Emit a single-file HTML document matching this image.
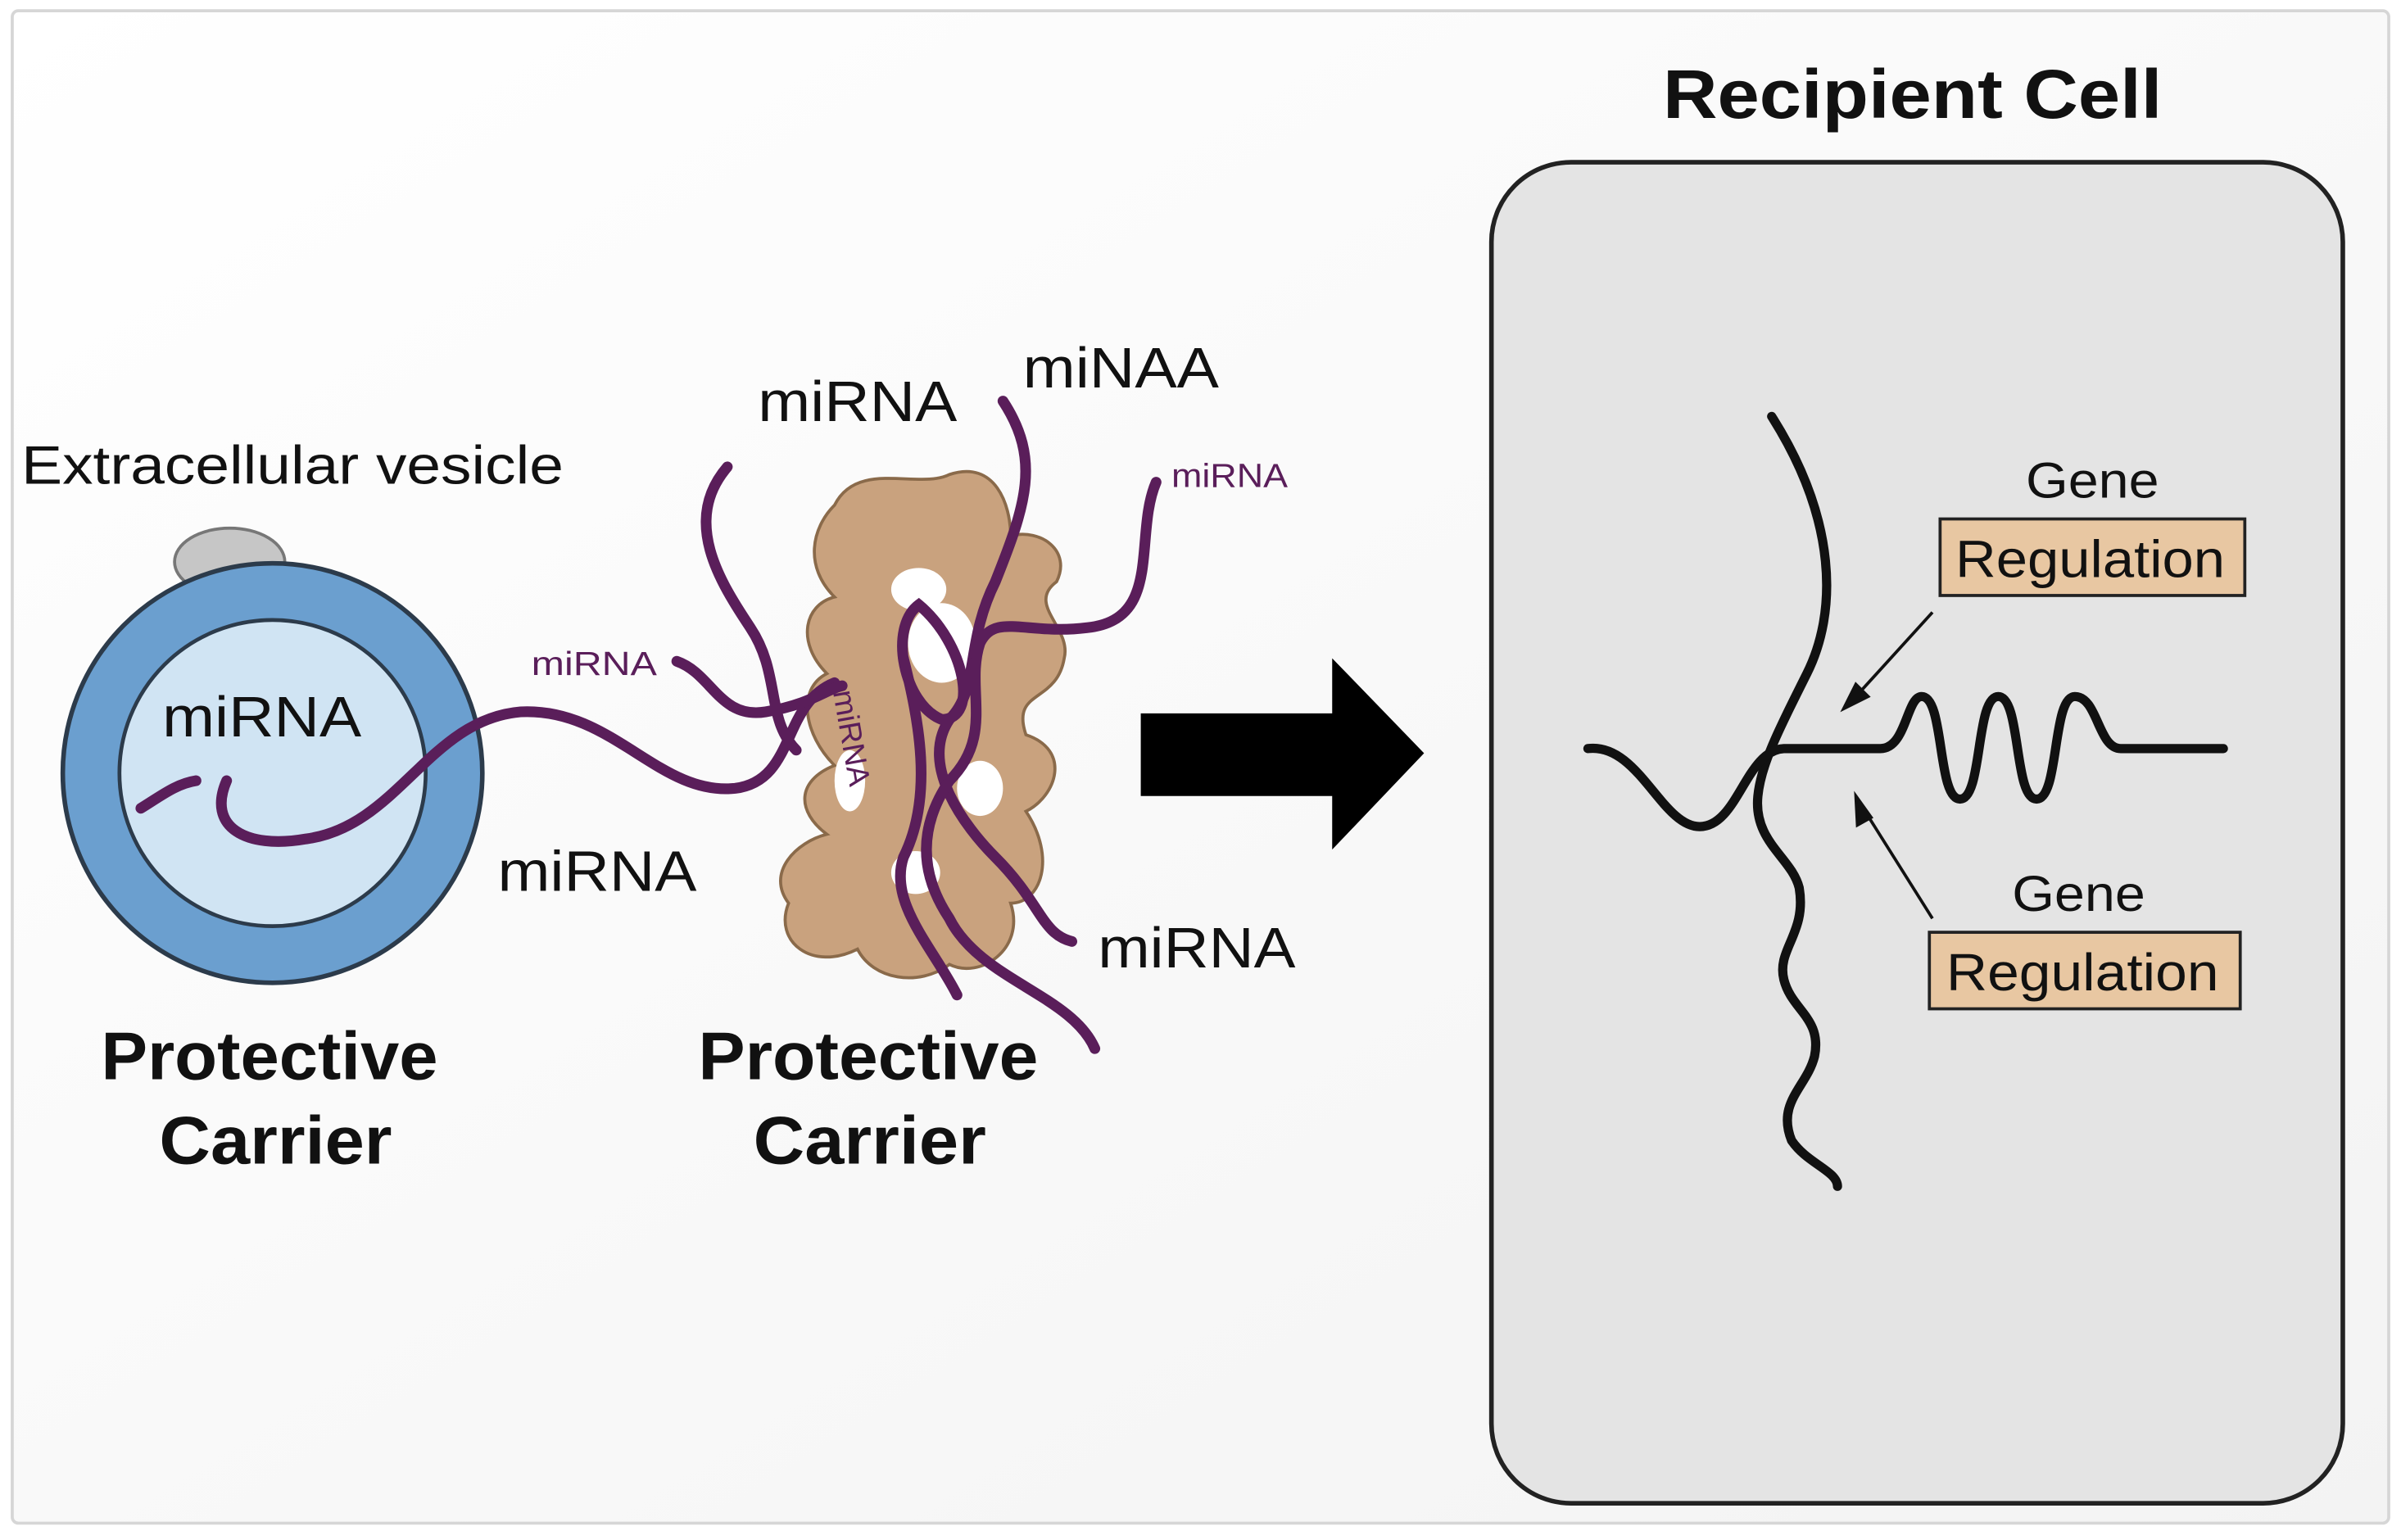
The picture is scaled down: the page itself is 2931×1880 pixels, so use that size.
<!DOCTYPE html>
<html><head><meta charset="utf-8"><style>
html,body{margin:0;padding:0;background:#fff}
svg{display:block}
text{font-family:"Liberation Sans",sans-serif}
</style></head><body>
<svg width="2931" height="1880" viewBox="0 0 1568 1006" preserveAspectRatio="none" xmlns="http://www.w3.org/2000/svg">
<defs>
<linearGradient id="bg" x1="0" y1="0" x2="1" y2="1"><stop offset="0" stop-color="#ffffff"/><stop offset="1" stop-color="#f3f3f3"/></linearGradient>
</defs>
<rect x="0" y="0" width="1568" height="1006" fill="#fff"/>
<rect x="8" y="7" width="1552" height="988" rx="4" fill="url(#bg)" stroke="#d6d6d6" stroke-width="2"/>

<text x="1086" y="77" font-size="45" font-weight="bold" textLength="326" lengthAdjust="spacingAndGlyphs" fill="#111">Recipient Cell</text>
<rect x="974" y="106" width="556" height="876" rx="52" fill="#e4e4e4" stroke="#222" stroke-width="3"/>

<!-- vesicle -->
<ellipse cx="150" cy="367" rx="36" ry="22" fill="#c6c6c6" stroke="#777" stroke-width="2"/>
<circle cx="178" cy="505" r="137" fill="#6b9fcf" stroke="#2c3b4b" stroke-width="3"/>
<circle cx="178" cy="505" r="100" fill="#d0e4f3" stroke="#2c3b4b" stroke-width="2.5"/>
<text x="14" y="316" font-size="35" textLength="354" lengthAdjust="spacingAndGlyphs" fill="#111">Extracellular vesicle</text>
<text x="106" y="481" font-size="37" textLength="130" lengthAdjust="spacingAndGlyphs" fill="#111">miRNA</text>

<!-- protein blob -->
<path d="M545 330 C560 300 600 320 620 310 C650 300 660 330 660 350 C680 345 700 360 690 380 C670 395 700 410 695 430 C690 460 660 450 670 480 C700 490 690 520 670 530 C690 560 680 590 660 590 C670 620 640 640 620 630 C600 645 570 640 560 620 C530 635 505 615 515 590 C500 570 520 550 540 545 C520 530 520 510 545 500 C525 480 520 450 540 440 C520 420 525 395 545 390 C525 370 530 345 545 330 Z" fill="#c9a27e" stroke="#8a6a4a" stroke-width="2"/>
<ellipse cx="600" cy="385" rx="18" ry="14" fill="#fff"/>
<ellipse cx="615" cy="420" rx="22" ry="26" fill="#fff"/>
<ellipse cx="640" cy="515" rx="15" ry="18" fill="#fff"/>
<ellipse cx="598" cy="570" rx="16" ry="14" fill="#fff"/>
<ellipse cx="555" cy="510" rx="10" ry="20" fill="#fff"/>

<!-- purple strands -->
<g fill="none" stroke="#5a1e5a" stroke-width="7" stroke-linecap="round">
<path d="M92 528 C105 520 115 512 128 510"/>
<path d="M148 510 C135 540 160 555 200 548 C260 540 280 470 340 465 C400 462 430 520 480 515 C520 510 510 460 545 446"/>
<path d="M442 432 C465 440 470 470 500 465 C530 460 540 450 550 448"/>
<path d="M475 305 C445 340 470 380 490 410 C510 440 500 470 520 490"/>
<path d="M655 262 C680 300 670 330 650 380 C630 420 640 450 620 470 C600 500 630 540 650 560 C680 590 680 610 700 615"/>
<path d="M755 315 C740 350 760 405 710 410 C670 415 650 400 640 420 C630 450 650 480 620 510 C600 540 600 570 620 600 C640 640 700 650 715 685"/>
<path d="M600 395 C580 410 590 460 615 470 C640 470 630 420 600 395 Z"/>
<path d="M590 430 C600 470 610 520 590 560 C580 590 610 620 625 650"/>
</g>
<text x="347" y="441" font-size="22" textLength="82" lengthAdjust="spacingAndGlyphs" fill="#5a1e5a">miRNA</text>
<text x="765" y="318" font-size="22" textLength="76" lengthAdjust="spacingAndGlyphs" fill="#5a1e5a">miRNA</text>
<text x="0" y="0" font-size="20" fill="#5a1e5a" transform="translate(544,452) rotate(80)">miRNA</text>
<text x="495" y="275" font-size="37" textLength="130" lengthAdjust="spacingAndGlyphs" fill="#111">miRNA</text>
<text x="668" y="253" font-size="37" textLength="128" lengthAdjust="spacingAndGlyphs" fill="#111">miNAA</text>
<text x="325" y="582" font-size="37" textLength="130" lengthAdjust="spacingAndGlyphs" fill="#111">miRNA</text>
<text x="717" y="632" font-size="37" textLength="129" lengthAdjust="spacingAndGlyphs" fill="#111">miRNA</text>

<g font-size="44" font-weight="bold" fill="#111" lengthAdjust="spacingAndGlyphs">
<text x="66" y="705" textLength="220" lengthAdjust="spacingAndGlyphs">Protective</text><text x="104" y="760" textLength="152" lengthAdjust="spacingAndGlyphs">Carrier</text>
<text x="456" y="705" textLength="222" lengthAdjust="spacingAndGlyphs">Protective</text><text x="492" y="760" textLength="152" lengthAdjust="spacingAndGlyphs">Carrier</text>
</g>

<!-- big arrow -->
<path d="M745 466 H870 V430 L930 492 L870 555 V520 H745 Z" fill="#000"/>

<!-- cell contents -->
<g fill="none" stroke="#111" stroke-width="6" stroke-linecap="round">
<path d="M1157 272 C1200 340 1200 400 1180 440 C1160 480 1150 500 1148 520 C1145 550 1170 560 1175 580 C1180 610 1160 620 1165 640 C1170 660 1190 665 1185 690 C1180 710 1160 720 1170 745 C1180 760 1200 765 1200 775"/>
<path d="M1037 489 C1070 485 1085 540 1110 540 C1135 540 1140 490 1165 489 L1228 489 C1245 489 1245 455 1255 455 C1270 455 1265 522 1280 522 C1295 522 1290 455 1305 455 C1320 455 1315 522 1330 522 C1345 522 1340 455 1355 455 C1370 455 1370 489 1385 489 L1452 489"/>
</g>
<g stroke="#111" stroke-width="2" fill="#111">
<line x1="1262" y1="400" x2="1212" y2="455"/><path d="M1204 463 L1212 447 L1220 455 Z"/>
<line x1="1262" y1="600" x2="1218" y2="530"/><path d="M1212 520 L1222 534 L1213 539 Z"/>
</g>
<text x="1323" y="325" font-size="33" textLength="87" lengthAdjust="spacingAndGlyphs" fill="#111">Gene</text>
<rect x="1267" y="339" width="199" height="50" fill="#e8c7a2" stroke="#222" stroke-width="2"/>
<text x="1277" y="377" font-size="34" textLength="176" lengthAdjust="spacingAndGlyphs" fill="#111">Regulation</text>
<text x="1314" y="595" font-size="33" textLength="87" lengthAdjust="spacingAndGlyphs" fill="#111">Gene</text>
<rect x="1260" y="609" width="203" height="50" fill="#e8c7a2" stroke="#222" stroke-width="2"/>
<text x="1271" y="647" font-size="34" textLength="178" lengthAdjust="spacingAndGlyphs" fill="#111">Regulation</text>
</svg>
</body></html>
